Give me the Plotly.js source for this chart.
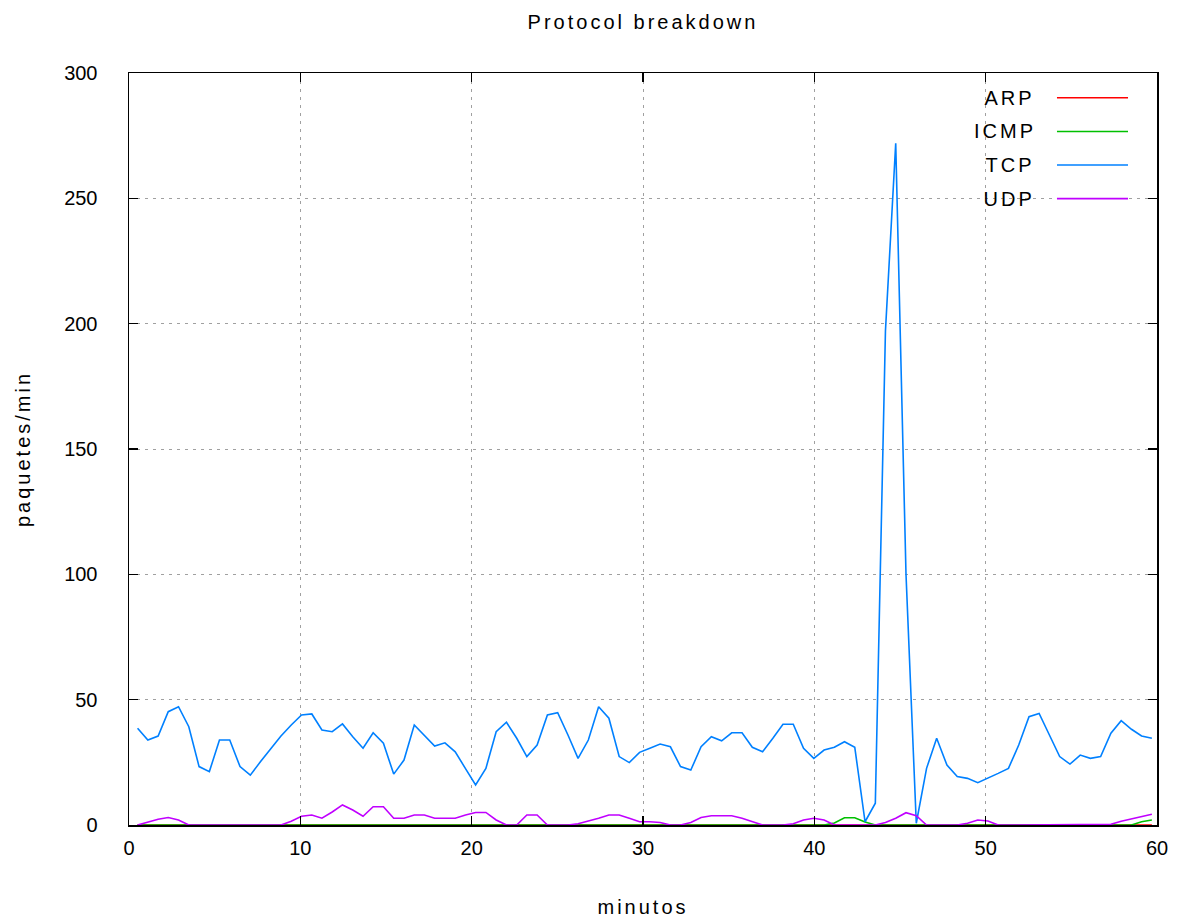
<!DOCTYPE html>
<html>
<head>
<meta charset="utf-8">
<script src="https://cdn.plot.ly/plotly-3.0.1.min.js"></script>
<style>
  html, body { margin: 0; padding: 0; background: #ffffff; }
  #chart { width: 1181px; height: 923px; }
  /* wide, airy lettering for the title, axis titles and key labels */
  #chart .gtitle, #chart .xtitle, #chart .ytitle, #chart .annotation-text { letter-spacing: 3px; }
</style>
</head>
<body>
<div id="chart"></div>
<script>
// Sample times (minutes)
const minutes = [
  0.50, 1.10, 1.70, 2.29, 2.89, 3.49, 4.09, 4.69, 5.28, 5.88,
  6.48, 7.08, 7.68, 8.27, 8.87, 9.47, 10.07, 10.67, 11.26, 11.86,
  12.46, 13.06, 13.66, 14.25, 14.85, 15.45, 16.05, 16.65, 17.24, 17.84,
  18.44, 19.04, 19.64, 20.23, 20.83, 21.43, 22.03, 22.63, 23.22, 23.82,
  24.42, 25.02, 25.62, 26.21, 26.81, 27.41, 28.01, 28.61, 29.20, 29.80,
  30.40, 31.00, 31.60, 32.19, 32.79, 33.39, 33.99, 34.59, 35.18, 35.78,
  36.38, 36.98, 37.58, 38.17, 38.77, 39.37, 39.97, 40.57, 41.17, 41.76,
  42.36, 42.96, 43.56, 44.15, 44.75, 45.35, 45.95, 46.55, 47.14, 47.74,
  48.34, 48.94, 49.54, 50.13, 50.73, 51.33, 51.93, 52.53, 53.12, 53.72,
  54.32, 54.92, 55.52, 56.11, 56.71, 57.31, 57.91, 58.51, 59.10, 59.70
];

// Packets per minute, one array per protocol
const arp = [
  0, 0, 0, 0, 0, 0, 0, 0, 0, 0,
  0, 0, 0, 0, 0, 0, 0, 0, 0, 0,
  0, 0, 0, 0, 0, 0, 0, 0, 0, 0,
  0, 0, 0, 0, 0, 0, 0, 0, 0, 0,
  0, 0, 0, 0, 0, 0, 0, 0, 0, 0,
  0, 0, 0, 0, 0, 0, 0, 0, 0, 0,
  0, 0, 0, 0, 0, 0, 0, 0, 0, 0,
  0, 0, 0, 0, 0, 0, 0, 0, 0, 0,
  0, 0, 0, 0, 0, 0, 0, 0, 0, 0,
  0, 0, 0, 0, 0, 0, 0, 0, 0, 0
];

const icmp = [
  0, 0, 0, 0, 0, 0, 0, 0, 0, 0,
  0, 0, 0, 0, 0, 0, 0, 0, 0, 0,
  0, 0, 0, 0, 0, 0, 0, 0, 0, 0,
  0, 0, 0, 0, 0, 0, 0, 0, 0, 0,
  0, 0, 0, 0, 0, 0, 0, 0, 0, 0,
  0, 0, 0, 0, 0, 0, 0, 0, 0, 0,
  0, 0, 0, 0, 0, 0, 0, 0, 0.8, 2.9,
  2.9, 1.2, 0, 0, 0, 0, 0, 0, 0, 0,
  0, 0, 0, 0, 0, 0, 0, 0, 0, 0,
  0, 0, 0, 0, 0, 0, 0, 0, 1.3, 2.0
];

const tcp = [
  38.6, 33.9, 35.5, 45.2, 47.2, 39.2, 23.3, 21.3, 33.9, 33.9,
  23.3, 19.9, 25.3, 30.6, 35.5, 39.9, 43.9, 44.3, 37.9, 37.2,
  40.3, 35.2, 30.6, 36.8, 32.6, 20.3, 25.9, 39.9, 35.9, 31.5,
  32.8, 29.2, 22.5, 16.0, 22.6, 37.2, 41.0, 34.6, 27.3, 31.9,
  43.9, 44.8, 35.9, 26.6, 33.9, 47.2, 42.6, 27.3, 24.9, 29.0,
  30.6, 32.3, 31.2, 23.3, 21.9, 31.2, 35.2, 33.6, 36.8, 36.8,
  31.0, 29.2, 34.6, 40.2, 40.2, 30.6, 26.6, 29.9, 31.0, 33.2,
  31.0, 1.3, 8.7, 197, 272, 100, 0.7, 22.6, 34.6, 23.9,
  19.3, 18.6, 16.9, 18.6, 20.6, 22.6, 31.9, 43.2, 44.5, 35.9,
  27.3, 24.3, 27.9, 26.6, 27.3, 36.6, 41.6, 38.2, 35.5, 34.6
];

const udp = [
  0, 1.2, 2.3, 3.0, 2.0, 0, 0, 0, 0, 0,
  0, 0, 0, 0, 0, 1.5, 3.5, 4.0, 2.7, 5.2,
  8.0, 6.0, 3.5, 7.3, 7.3, 2.7, 2.7, 4.0, 4.0, 2.7,
  2.7, 2.7, 4.0, 5.0, 5.0, 2.0, 0, 0, 4.0, 4.0,
  0, 0, 0, 0.5, 1.5, 2.7, 4.0, 4.0, 2.7, 1.3,
  1.3, 1.0, 0, 0, 1.0, 3.0, 3.7, 3.7, 3.7, 2.7,
  1.3, 0, 0, 0, 0.5, 2.0, 2.7, 2.0, 0, 0,
  0, 0, 0, 1.0, 2.7, 4.9, 3.7, 0, 0, 0,
  0, 0.7, 2.0, 1.6, 0, 0, 0, 0, 0, 0,
  0, 0, 0, 0, 0, 0.3, 1.5, 2.5, 3.5, 4.3
];

const seriesNames = ['ARP', 'ICMP', 'TCP', 'UDP'];
const seriesValues = [arp, icmp, tcp, udp];
const seriesColors = ['#ff0000', '#00c000', '#0080ff', '#c000ff'];

const xTicks = [0, 10, 20, 30, 40, 50, 60];
const yTicks = [0, 50, 100, 150, 200, 250, 300];

const FONT = '"Liberation Sans", Arial, sans-serif';

const traces = seriesNames.map((name, i) => ({
  type: 'scatter',
  mode: 'lines',
  name: name,
  x: minutes,
  y: seriesValues[i],
  line: { color: seriesColors[i], width: 1.6 },
  showlegend: false,
  hoverinfo: 'x+y+name'
}));

// Key: label on the left, line sample on the right, over a white box
const keyShapes = [{
  type: 'rect', xref: 'paper', yref: 'paper', layer: 'below',
  x0: 0.828, x1: 0.983, y0: 0.81, y1: 1.0,
  fillcolor: '#ffffff', line: { width: 0 }
}];
const keyAnnotations = [];
const rowTop = 0.967, rowStep = 0.0447;
seriesNames.forEach((name, i) => {
  const yy = rowTop - i * rowStep;
  keyShapes.push({
    type: 'line', xref: 'paper', yref: 'paper', layer: 'above',
    x0: 0.9027, x1: 0.9718, y0: yy, y1: yy,
    line: { color: seriesColors[i], width: 1.6 }
  });
  keyAnnotations.push({
    xref: 'paper', yref: 'paper', x: 0.8785, y: yy,
    xanchor: 'right', yanchor: 'middle', showarrow: false,
    text: name, font: { family: FONT, size: 20, color: '#000000' }
  });
});

const axisCommon = {
  showline: true, linecolor: '#000000', linewidth: 1.5, mirror: 'ticks',
  ticks: 'inside', ticklen: 9, tickwidth: 1.5, tickcolor: '#000000',
  showgrid: true, gridcolor: '#a0a0a0', gridwidth: 1, griddash: '3px,5px',
  zeroline: false, tickfont: { family: FONT, size: 20, color: '#000000' }
};

const layout = {
  width: 1181, height: 923,
  margin: { l: 129, r: 24, t: 73, b: 98 },
  paper_bgcolor: '#ffffff', plot_bgcolor: '#ffffff',
  title: {
    text: 'Protocol breakdown', xref: 'paper', x: 0.5, xanchor: 'center',
    yref: 'container', y: 0.976, yanchor: 'middle',
    font: { family: FONT, size: 20, color: '#000000' }
  },
  xaxis: Object.assign({}, axisCommon, {
    range: [0, 60], tickmode: 'array', tickvals: xTicks,
    ticktext: xTicks.map(String), ticklabelstandoff: 4,
    title: { text: 'minutos', standoff: 42, font: { family: FONT, size: 20, color: '#000000' } }
  }),
  yaxis: Object.assign({}, axisCommon, {
    range: [0, 300], tickmode: 'array', tickvals: yTicks,
    ticktext: yTicks.map(String), ticklabelstandoff: 26,
    title: { text: 'paquetes/min', standoff: 28, font: { family: FONT, size: 20, color: '#000000' } }
  }),
  shapes: keyShapes,
  annotations: keyAnnotations
};

Plotly.newPlot('chart', traces, layout, { staticPlot: true, displayModeBar: false });
</script>
</body>
</html>
